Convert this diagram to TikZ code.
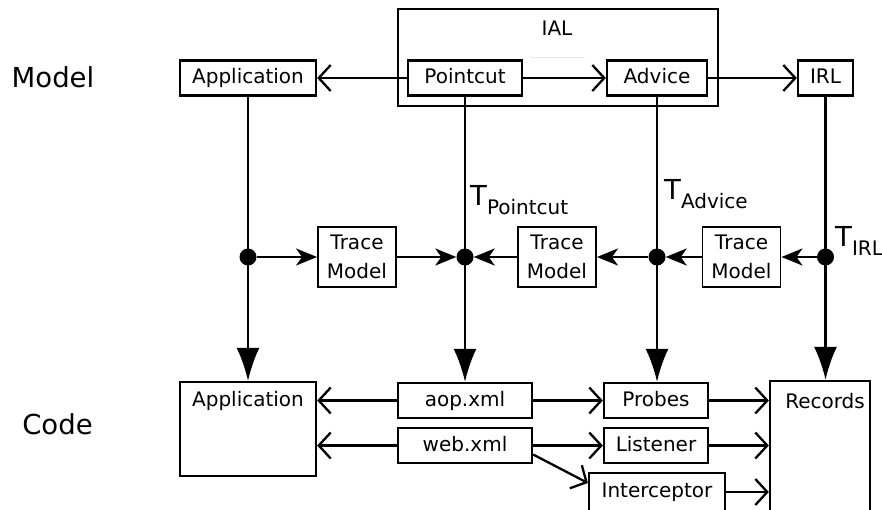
\documentclass[tikz,border=0pt]{standalone}
\usepackage{fontspec}
\setmainfont{DejaVu Sans}
\usetikzlibrary{arrows.meta,calc}

\begin{document}
\begin{tikzpicture}[x=1pt,y=-1pt,
  box/.style={draw, line width=2.3pt, minimum height=35pt, inner sep=0pt,
    text height=15pt, text depth=4pt, font=\fontsize{20}{22}\selectfont},
  tbox/.style={draw, line width=1.9pt, minimum width=78pt, minimum height=60pt,
    align=center, inner sep=0pt, font=\fontsize{20}{29}\selectfont},
  txt/.style={inner sep=0pt, font=\fontsize{20}{22}\selectfont},
  conn/.style={line width=2.3pt},
  open/.style={conn, -{Straight Barb[length=12pt,width=26pt]}},
  small/.style={conn, -{Stealth[length=21pt,width=17pt,inset=6pt]}},
  big/.style={conn, -{Latex[length=33pt,width=23pt]}},
  dot/.style={circle, fill, inner sep=0pt, minimum size=17pt},
  side/.style={anchor=base, inner sep=0pt, font=\fontsize{27.5}{30}\selectfont},
  tlabel/.style={anchor=base west, inner sep=0pt, font=\fontsize{27.5}{30}\selectfont}
]
% canvas
\fill[white] (0,0) rectangle (882,509);
\useasboundingbox (0,0) rectangle (882,509);

% level labels
\node[side] (lmodel) at (53,87) {Model};
\node[side] (lcode) at (57.5,434) {Code};

% model level
\node[draw, line width=2.3pt, minimum width=320pt, minimum height=97pt, inner sep=0pt] (ial) at (558,57.5) {};
\node[txt] (iallbl) at (557,28.5) {IAL};
\draw[black!10, line width=1pt] (530,57) -- (585,57);

\node[box, minimum width=136pt] (appm) at (248,78) {Application};
\node[box, minimum width=114pt] (pc) at (465,78) {Pointcut};
\node[box, minimum width=100pt] (adv) at (657,78) {Advice};
\node[box, minimum width=55pt] (irl) at (825.5,78) {IRL};

\draw[open] (pc) -- (appm);
\draw[open] (pc) -- (adv);
\draw[open] (adv) -- (irl);

% code level
\node[box, minimum width=136pt, minimum height=94pt] (appc) at (248,429) {};
\node[txt] (appclbl) at (248,401) {Application};
\node[box, minimum width=134pt] (aop) at (465,400.5) {aop.xml};
\node[box, minimum width=134pt] (web) at (465,445.5) {web.xml};
\node[box, minimum width=104pt] (prb) at (656,400.5) {Probes};
\node[box, minimum width=104pt] (lis) at (656,445.5) {Listener};
\node[box, minimum width=136pt, minimum height=38pt] (icp) at (657,492) {Interceptor};
\node[box, minimum width=100pt, minimum height=139pt] (rec) at (820,450.5) {};
\node[txt] (reclbl) at (825,401) {Records};

\draw[open] (aop.west) -- (aop.west -| appc.east);
\draw[open] (web.west) -- (web.west -| appc.east);
\draw[open] (aop) -- (prb);
\draw[open] (web) -- (lis);
\draw[open] ($(web.east)+(0,9)$) -- ($(icp.west)+(0,-9)$);
\draw[open] (prb.east) -- (prb.east -| rec.west);
\draw[open] (lis.east) -- (lis.east -| rec.west);
\draw[open] (icp.east) -- (icp.east -| rec.west);

% trace links
\draw[big] (appm) -- (appc);
\draw[big] (pc) -- (aop);
\draw[big] (adv.south) -- (adv.south |- prb.north);
\draw[big] (irl.south) -- (irl.south |- rec.north);

\node[dot] (d1) at (248,257) {};
\node[dot] (d2) at (465,257) {};
\node[dot] (d3) at (657,257) {};
\node[dot] (d4) at (825.5,257) {};

\node[tbox] (tm1) at (357,257) {Trace\\Model};
\node[tbox] (tm2) at (557,257) {Trace\\Model};
\node[tbox] (tm3) at (741.5,257) {Trace\\Model};

\draw[small] (d1) -- (tm1);
\draw[small] (tm1) -- (d2);
\draw[small] (tm2) -- (d2);
\draw[small] (d3) -- (tm2);
\draw[small] (tm3) -- (d3);
\draw[small] (d4) -- (tm3);

% trace labels
\node[tlabel] (tpc) at (470,205) {T\raisebox{-9pt}{\fontsize{20}{20}\selectfont Pointcut}};
\node[tlabel] (tadv) at (664,199) {T\raisebox{-9pt}{\fontsize{20}{20}\selectfont Advice}};
\node[tlabel] (tirl) at (835,246) {T\raisebox{-9pt}{\fontsize{20}{20}\selectfont IRL}};
\end{tikzpicture}
\end{document}
